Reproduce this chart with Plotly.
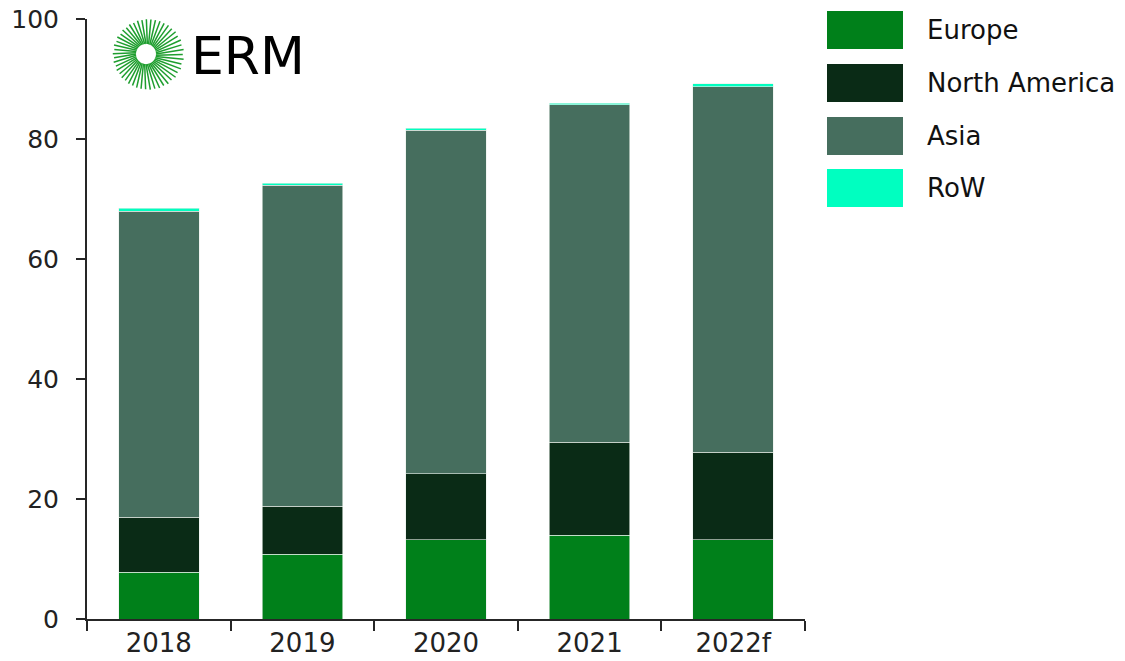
import math
import plotly.graph_objects as go

categories = ["2018", "2019", "2020", "2021", "2022f"]
europe = [7.8, 10.8, 13.2, 14.0, 13.2]
north_america = [9.2, 8.0, 11.0, 15.5, 14.6]
asia = [51.0, 53.5, 57.3, 56.2, 60.9]
row = [0.5, 0.3, 0.3, 0.3, 0.5]

series_names = ["Europe", "North America", "Asia", "RoW"]
series_values = [europe, north_america, asia, row]
series_colors = ["#00801A", "#0A2B16", "#466E5E", "#00FFC0"]

W, H = 1125, 661
L, R, T, B = 87, 805, 19, 619
FONT = "DejaVu Sans, Verdana, sans-serif"

def px2paper(x, y):
    return (x - L) / (R - L), (B - y) / (B - T)

fig = go.Figure()
for name, vals, col in zip(series_names, series_values, series_colors):
    fig.add_trace(go.Bar(
        x=categories, y=vals, name=name,
        marker=dict(color=col, line=dict(color="#E8EEEA", width=0.6)),
        showlegend=False,
    ))

shapes = []
annotations = []

# custom legend with large swatches
legend_top = [11, 64, 117, 169]
for name, col, top in zip(series_names, series_colors, legend_top):
    x0, y0 = px2paper(827, top + 38)
    x1, y1 = px2paper(903, top)
    shapes.append(dict(type="rect", xref="paper", yref="paper",
                       x0=x0, y0=y0, x1=x1, y1=y1,
                       fillcolor=col, line=dict(width=0)))
    tx, ty = px2paper(925, top + 19)
    annotations.append(dict(text=name, xref="paper", yref="paper", x=tx, y=ty,
                            xanchor="left", yanchor="middle", showarrow=False,
                            font=dict(family=FONT, size=26, color="#111111")))

# ERM logo: starburst
cx, cy = 146, 54
n_rays = 48
for i in range(n_rays):
    a = 2 * math.pi * i / n_rays
    r0 = 10
    r1 = 35 + 3 * math.cos(a + 0.3) * (1 if i % 2 == 0 else 0.6)
    a1 = a + 0.12
    xs, ys = cx + r0 * math.cos(a), cy - r0 * math.sin(a)
    xe, ye = cx + r1 * math.cos(a1), cy - r1 * math.sin(a1)
    p0 = px2paper(xs, ys)
    p1 = px2paper(xe, ye)
    shapes.append(dict(type="line", xref="paper", yref="paper",
                       x0=p0[0], y0=p0[1], x1=p1[0], y1=p1[1],
                       line=dict(color="#1E9E2E", width=1.5)))

lx, ly = px2paper(189, 56)
annotations.append(dict(text="ERM", xref="paper", yref="paper", x=lx, y=ly,
                        xanchor="left", yanchor="middle", showarrow=False,
                        font=dict(family=FONT, size=52, color="#000000")))

fig.update_layout(
    barmode="stack",
    bargap=0.44,
    width=W, height=H,
    margin=dict(l=L, r=W - R, t=T, b=H - B, pad=0, autoexpand=False),
    paper_bgcolor="white", plot_bgcolor="white",
    font=dict(family=FONT, size=26, color="#222222"),
    shapes=shapes,
    annotations=annotations,
    xaxis=dict(
        type="category", showline=True, linecolor="#262626", linewidth=2,
        ticks="outside", tickson="boundaries", ticklen=10, tickwidth=2,
        tickcolor="#262626", showgrid=False, zeroline=False, automargin=False,
        tickfont=dict(family=FONT, size=26, color="#222222"),
    ),
    yaxis=dict(
        range=[0, 100], tickvals=[0, 20, 40, 60, 80, 100],
        showline=True, linecolor="#262626", linewidth=2,
        ticks="outside", ticklen=9, tickwidth=2, tickcolor="#262626",
        showgrid=False, zeroline=False, automargin=False,
        ticklabelstandoff=12,
        tickfont=dict(family=FONT, size=25, color="#222222"),
    ),
)

fig.write_html("out.html", config={"displayModeBar": False},
               post_script="document.body.style.margin='0';document.body.style.overflow='hidden';")
